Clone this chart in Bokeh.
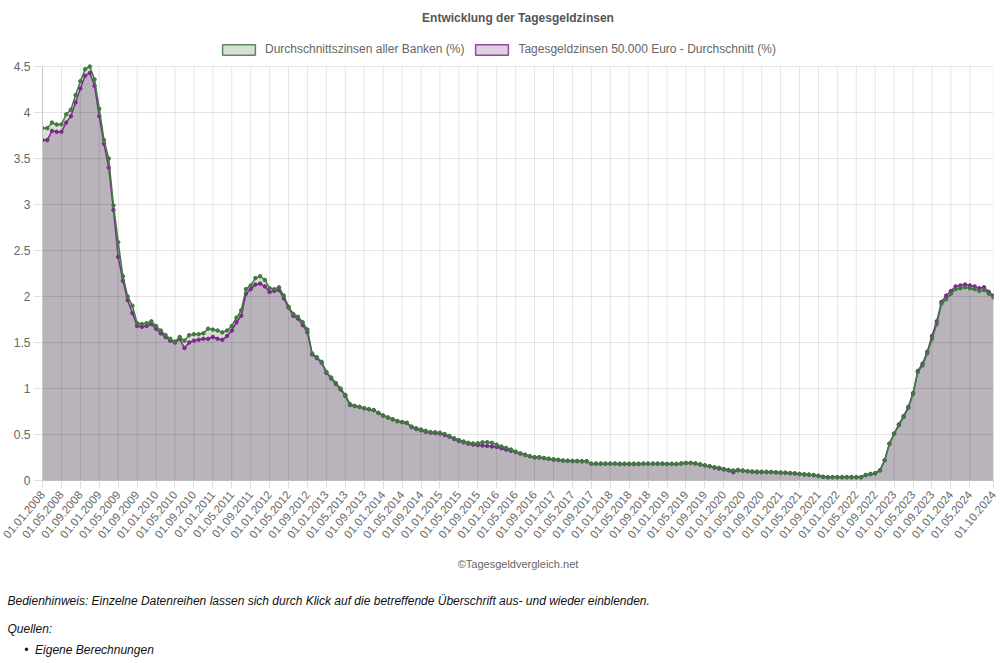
import numpy as np
from bokeh.plotting import figure
from bokeh.models import (ColumnDataSource, FixedTicker, NumeralTickFormatter, Title,
                          Legend, LegendItem, Range1d)
from bokeh.embed import file_html
from bokeh.resources import INLINE

# ---------------- data ----------------
dates = [f"01.{m:02d}.{y}" for y in range(2008, 2025) for m in range(1, 13)][:202]

durchschnitt_alle_banken = [
    3.83, 3.83, 3.89, 3.87, 3.87, 3.98, 4.03, 4.19, 4.34, 4.47, 4.50, 4.36,   # 2008
    4.04, 3.70, 3.50, 2.99, 2.59, 2.22, 2.00, 1.90, 1.71, 1.70, 1.71, 1.73,   # 2009
    1.68, 1.63, 1.58, 1.54, 1.51, 1.56, 1.52, 1.58, 1.59, 1.59, 1.60, 1.65,   # 2010
    1.64, 1.63, 1.61, 1.63, 1.68, 1.77, 1.85, 2.08, 2.12, 2.20, 2.22, 2.18,   # 2011
    2.09, 2.08, 2.10, 2.01, 1.89, 1.81, 1.78, 1.72, 1.64, 1.38, 1.34, 1.29,   # 2012
    1.18, 1.12, 1.06, 1.00, 0.93, 0.83, 0.81, 0.80, 0.785, 0.775, 0.765, 0.735,  # 2013
    0.707, 0.685, 0.665, 0.645, 0.635, 0.628, 0.587, 0.569, 0.555, 0.54, 0.527, 0.525,  # 2014
    0.52, 0.505, 0.485, 0.46, 0.44, 0.425, 0.41, 0.403, 0.405, 0.415, 0.417, 0.41,  # 2015
    0.39, 0.37, 0.355, 0.337, 0.315, 0.295, 0.28, 0.265, 0.254, 0.254, 0.245, 0.237,  # 2016
    0.23, 0.225, 0.217, 0.215, 0.213, 0.212, 0.21, 0.21, 0.183, 0.183, 0.183, 0.183,  # 2017
    0.183, 0.183, 0.183, 0.183, 0.183, 0.183, 0.183, 0.183, 0.183, 0.183, 0.183, 0.183,  # 2018
    0.18, 0.18, 0.18, 0.185, 0.19, 0.192, 0.185, 0.175, 0.165, 0.155, 0.145, 0.138,  # 2019
    0.125, 0.115, 0.11, 0.115, 0.11, 0.10, 0.098, 0.097, 0.096, 0.095, 0.093, 0.09,  # 2020
    0.087, 0.085, 0.08, 0.077, 0.072, 0.068, 0.064, 0.06, 0.05, 0.04, 0.036, 0.036,  # 2021
    0.036, 0.036, 0.036, 0.036, 0.036, 0.036, 0.06, 0.07, 0.08, 0.11, 0.22, 0.40,  # 2022
    0.51, 0.60, 0.69, 0.79, 0.94, 1.18, 1.25, 1.38, 1.54, 1.70, 1.92, 1.97,   # 2023
    2.03, 2.08, 2.09, 2.10, 2.09, 2.08, 2.06, 2.07, 2.03, 1.99,               # 2024
]

tagesgeld_50000 = [
    3.70, 3.70, 3.80, 3.79, 3.79, 3.89, 3.96, 4.11, 4.26, 4.40, 4.43, 4.29,   # 2008
    3.96, 3.66, 3.40, 2.94, 2.43, 2.17, 1.96, 1.82, 1.68, 1.67, 1.68, 1.70,   # 2009
    1.65, 1.60, 1.56, 1.52, 1.50, 1.54, 1.44, 1.50, 1.52, 1.53, 1.54, 1.54,   # 2010
    1.56, 1.54, 1.53, 1.57, 1.63, 1.72, 1.79, 2.03, 2.08, 2.13, 2.14, 2.11,   # 2011
    2.05, 2.06, 2.07, 1.98, 1.88, 1.79, 1.76, 1.69, 1.61, 1.37, 1.33, 1.28,   # 2012
    1.17, 1.11, 1.05, 0.99, 0.92, 0.82, 0.81, 0.80, 0.785, 0.775, 0.765, 0.735,  # 2013
    0.705, 0.685, 0.665, 0.645, 0.635, 0.625, 0.58, 0.56, 0.545, 0.53, 0.52, 0.515,  # 2014
    0.51, 0.495, 0.475, 0.45, 0.43, 0.415, 0.40, 0.39, 0.385, 0.38, 0.375, 0.37,  # 2015
    0.365, 0.35, 0.335, 0.322, 0.31, 0.292, 0.278, 0.263, 0.25, 0.25, 0.243, 0.235,  # 2016
    0.228, 0.222, 0.215, 0.213, 0.21, 0.21, 0.208, 0.208, 0.183, 0.183, 0.183, 0.183,  # 2017
    0.183, 0.183, 0.178, 0.178, 0.178, 0.178, 0.178, 0.183, 0.183, 0.183, 0.183, 0.183,  # 2018
    0.18, 0.18, 0.18, 0.185, 0.19, 0.19, 0.185, 0.175, 0.165, 0.155, 0.14, 0.13,  # 2019
    0.12, 0.11, 0.09, 0.11, 0.105, 0.10, 0.095, 0.09, 0.09, 0.09, 0.09, 0.088,  # 2020
    0.085, 0.083, 0.08, 0.077, 0.07, 0.066, 0.062, 0.058, 0.05, 0.04, 0.036, 0.036,  # 2021
    0.036, 0.036, 0.036, 0.036, 0.036, 0.036, 0.06, 0.07, 0.08, 0.11, 0.22, 0.40,  # 2022
    0.51, 0.61, 0.70, 0.80, 0.95, 1.19, 1.27, 1.40, 1.57, 1.73, 1.94, 2.01,   # 2023
    2.06, 2.11, 2.12, 2.13, 2.12, 2.11, 2.09, 2.10, 2.05, 2.01,               # 2024
]

y_ticks = [0, 0.5, 1, 1.5, 2, 2.5, 3, 3.5, 4, 4.5]

series_names = ["Durchschnittszinsen aller Banken (%)",
                "Tagesgeldzinsen 50.000 Euro - Durchschnitt (%)"]

# ---------------- styling ----------------
FONT = "Liberation Sans"
GREEN_LINE = "#3f7a3f"
PURPLE_LINE = "#7b2a8c"
OVERLAP_FILL = "#b9b4bc"
GREEN_FILL = "#d6e0d5"
PURPLE_FILL = "#dfd0e3"
TXT = "#666666"

# layout (pixels): plot area from y=66 to y=480; legend lives in the top band
TOP_BORDER = 32
PLOT_TOP_PX, PLOT_BOTTOM_PX = 66, 480

n = len(dates)
x = list(range(n))
g = np.array(durchschnitt_alle_banken)
pu = np.array(tagesgeld_50000)
lo = np.minimum(g, pu)
y_max = y_ticks[-1]
# extend the range so that the band above the plot area (legend) is part of the frame
y_top = y_max * (PLOT_BOTTOM_PX - TOP_BORDER) / (PLOT_BOTTOM_PX - PLOT_TOP_PX)

src = ColumnDataSource(dict(x=x, g=g, p=pu, lo=lo, zero=np.zeros(n)))

p = figure(width=1000, height=663, output_backend="svg", toolbar_location=None,
           x_range=Range1d(0, n - 1), y_range=Range1d(0, y_top),
           min_border_left=42, min_border_right=7, min_border_top=TOP_BORDER,
           min_border_bottom=183)
p.outline_line_color = None
p.background_fill_color = "white"
p.border_fill_color = "white"

# title
p.title.text = "Entwicklung der Tagesgeldzinsen"
p.title.align = "center"
p.title.vertical_align = "middle"
p.title.standoff = 14
p.title.text_font = FONT
p.title.text_font_size = "12px"
p.title.text_font_style = "bold"
p.title.text_color = "#555555"

# vertical grid lines (only over the plot area)
x_ticks = list(range(0, n - 5, 4)) + [n - 1]
p.segment(x0=x_ticks, x1=x_ticks, y0=[0] * len(x_ticks), y1=[y_max] * len(x_ticks),
          line_color="black", line_alpha=0.1, line_width=1, level="underlay")
p.xgrid.visible = False

# fills (below the grid)
p.varea(x="x", y1="zero", y2="lo", source=src, fill_color=OVERLAP_FILL, level="image")
p.varea(x="x", y1="lo", y2="g", source=src, fill_color=GREEN_FILL, level="image")
p.varea(x="x", y1="lo", y2="p", source=src, fill_color=PURPLE_FILL, level="image")

# lines + points
p.line(x="x", y="p", source=src, line_color=PURPLE_LINE, line_width=1.5)
p.scatter(x="x", y="p", source=src, size=3.5, fill_color=PURPLE_LINE, line_color=PURPLE_LINE)
p.line(x="x", y="g", source=src, line_color=GREEN_LINE, line_width=1.5)
p.scatter(x="x", y="g", source=src, size=3.5, fill_color=GREEN_LINE, line_color=GREEN_LINE)

# horizontal grid
p.ygrid.grid_line_color = "black"
p.ygrid.grid_line_alpha = 0.1
p.ygrid.level = "underlay"
p.ygrid.ticker = FixedTicker(ticks=y_ticks)

# axes
p.xaxis.ticker = FixedTicker(ticks=x_ticks)
p.xaxis.major_label_overrides = {i: dates[i] for i in x_ticks}
p.xaxis.major_label_orientation = float(np.deg2rad(50))
p.yaxis.ticker = FixedTicker(ticks=y_ticks)
p.yaxis.formatter = NumeralTickFormatter(format="0.[0]")
p.yaxis.bounds = (0, y_max)
for ax in (p.xaxis, p.yaxis):
    ax.axis_line_color = "#c8c8c8"
    ax.major_tick_line_color = "#e0e0e0"
    ax.major_tick_out = 8
    ax.major_tick_in = 0
    ax.minor_tick_line_color = None
    ax.major_label_text_font = FONT
    ax.major_label_text_color = TXT
    ax.major_label_standoff = 4
p.yaxis.major_label_text_font_size = "12px"
p.xaxis.major_label_text_font_size = "11.5px"
p.xaxis.axis_line_color = "#bdbdbd"

# legend (outlined boxes; the legend-only quads hold NaN so they draw nothing)
dg = p.quad(left=[np.nan], right=[np.nan], top=[np.nan], bottom=[np.nan],
            fill_color=GREEN_FILL, line_color="#5b8b5b", line_width=1.5)
dp = p.quad(left=[np.nan], right=[np.nan], top=[np.nan], bottom=[np.nan],
            fill_color=PURPLE_FILL, line_color="#8f4a9c", line_width=1.5)
legend = Legend(items=[LegendItem(label=series_names[0], renderers=[dg]),
                       LegendItem(label=series_names[1], renderers=[dp])],
                orientation="horizontal",
                location=(176, PLOT_BOTTOM_PX - 56),
                glyph_width=41, glyph_height=13, label_height=13, label_standoff=6,
                spacing=7, padding=0, margin=0, border_line_color=None,
                background_fill_alpha=0, label_text_font=FONT,
                label_text_font_size="12px", label_text_color=TXT)
p.add_layout(legend)

# footer texts
def add_footer(text, size, color, style, align, offset, standoff, line_height=1.2):
    p.add_layout(Title(text=text, text_font=FONT, text_font_size=size, text_color=color,
                       text_font_style=style, align=align, offset=offset,
                       standoff=standoff, vertical_align="middle",
                       text_line_height=line_height), "below")

add_footer("©Tagesgeldvergleich.net", "11px", TXT, "normal", "center", 0, 24)
add_footer("Bedienhinweis: Einzelne Datenreihen lassen sich durch Klick auf die betreffende "
           "Überschrift aus- und wieder einblenden.", "12px", "#111111", "italic", "left", -35, 21)
add_footer("Quellen:\n\u00a0\u00a0\u00a0\u00a0\u00a0\u2022\u00a0\u00a0Eigene Berechnungen",
           "12px", "#111111", "italic", "left", -35, 2, line_height=1.5)

open("out.html", "w").write(file_html(p, INLINE))
